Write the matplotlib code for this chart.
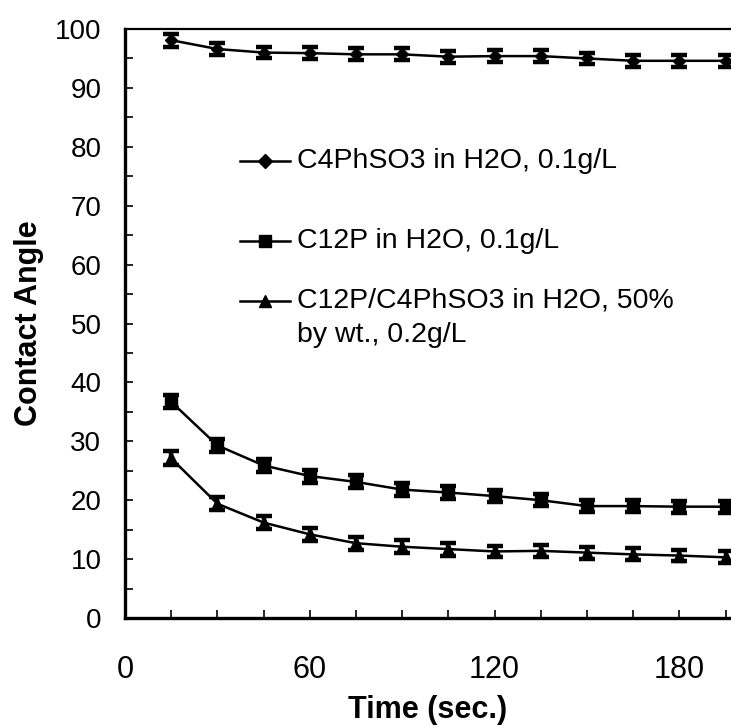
import matplotlib
matplotlib.use("Agg")
import matplotlib.pyplot as plt
from matplotlib.ticker import MultipleLocator

plt.rcParams['font.family'] = ['Liberation Sans', 'DejaVu Sans']

# Sampling times (s)
time_s = [15, 30, 45, 60, 75, 90, 105, 120, 135, 150, 165, 180, 195]

# Contact angle (deg) for each solution
c4phso3 = [98.1, 96.6, 96.0, 95.9, 95.7, 95.7, 95.3, 95.4, 95.4, 95.0, 94.6, 94.6, 94.6]
c12p = [36.7, 29.3, 25.9, 24.1, 23.1, 21.8, 21.3, 20.7, 20.0, 19.0, 19.0, 18.9, 18.9]
mix = [27.1, 19.4, 16.2, 14.2, 12.7, 12.1, 11.7, 11.3, 11.4, 11.1, 10.8, 10.6, 10.3]

# Standard deviations (deg)
c4phso3_err = [1.1, 1.0, 1.0, 1.0, 1.0, 1.0, 1.0, 1.0, 1.0, 1.0, 1.0, 1.0, 1.0]
c12p_err = [1.1, 1.1, 1.1, 1.1, 1.1, 1.1, 1.1, 1.0, 1.0, 1.0, 1.0, 1.0, 1.0]
mix_err = [1.2, 1.1, 1.1, 1.1, 1.1, 1.1, 1.1, 1.0, 1.0, 1.0, 1.0, 1.0, 1.0]

labels = ["C4PhSO3 in H2O, 0.1g/L",
          "C12P in H2O, 0.1g/L",
          "C12P/C4PhSO3 in H2O, 50%\nby wt., 0.2g/L"]
markers = ["D", "s", "^"]

x_ticks = [0, 60, 120, 180]
y_ticks = [0, 10, 20, 30, 40, 50, 60, 70, 80, 90, 100]

W, H = 731, 726
fig = plt.figure(figsize=(W / 100, H / 100), dpi=100)
left, right, top, bottom = 125, 731, 29, 618
ax = fig.add_axes([left / W, 1 - bottom / H, (right - left) / W, (bottom - top) / H])

series = [(c4phso3, c4phso3_err), (c12p, c12p_err), (mix, mix_err)]
for (vals, errs), mk in zip(series, markers):
    ax.errorbar(time_s, vals, yerr=errs, color="black", marker=mk,
                markersize=8 if mk != "D" else 6, linewidth=1.8,
                elinewidth=3.2, capsize=5.5, capthick=3.2)

ax.set_xlim(0, (right - left) / ((725.6 - 125) / 195))
ax.set_ylim(0, 100)
ax.set_xticks(x_ticks)
ax.set_yticks(y_ticks)
ax.xaxis.set_minor_locator(MultipleLocator(15))
ax.yaxis.set_minor_locator(MultipleLocator(5))
ax.tick_params(axis="both", which="both", direction="in", length=6, width=1.2)
ax.tick_params(axis="y", which="both", pad=17, left=True, right=False, labelsize=20)
ax.tick_params(axis="x", which="both", pad=27, top=False, labelsize=22)

ax.spines["right"].set_visible(False)
for s in ("left", "bottom"):
    ax.spines[s].set_linewidth(2.4)
ax.spines["top"].set_linewidth(1.6)

ax.set_xlabel("Time (sec.)", fontsize=22, fontweight="bold", labelpad=7)
ax.set_ylabel("Contact Angle", fontsize=22, fontweight="bold", labelpad=8)

# Hand-placed key
key_y = [77.6, 64.0, 53.9]
for y, mk, lab in zip(key_y, markers, labels):
    ax.plot([37.3, 53.6], [y, y], color="black", linewidth=1.8)
    ax.plot([45.5], [y], color="black", marker=mk,
            markersize=8 if mk != "D" else 7, linestyle="none")
    for i, ln in enumerate(lab.split("\n")):
        ax.text(55.8, y - i * 5.9, ln, fontsize=20.5, va="center", ha="left")

fig.savefig("out.png", dpi=100)
